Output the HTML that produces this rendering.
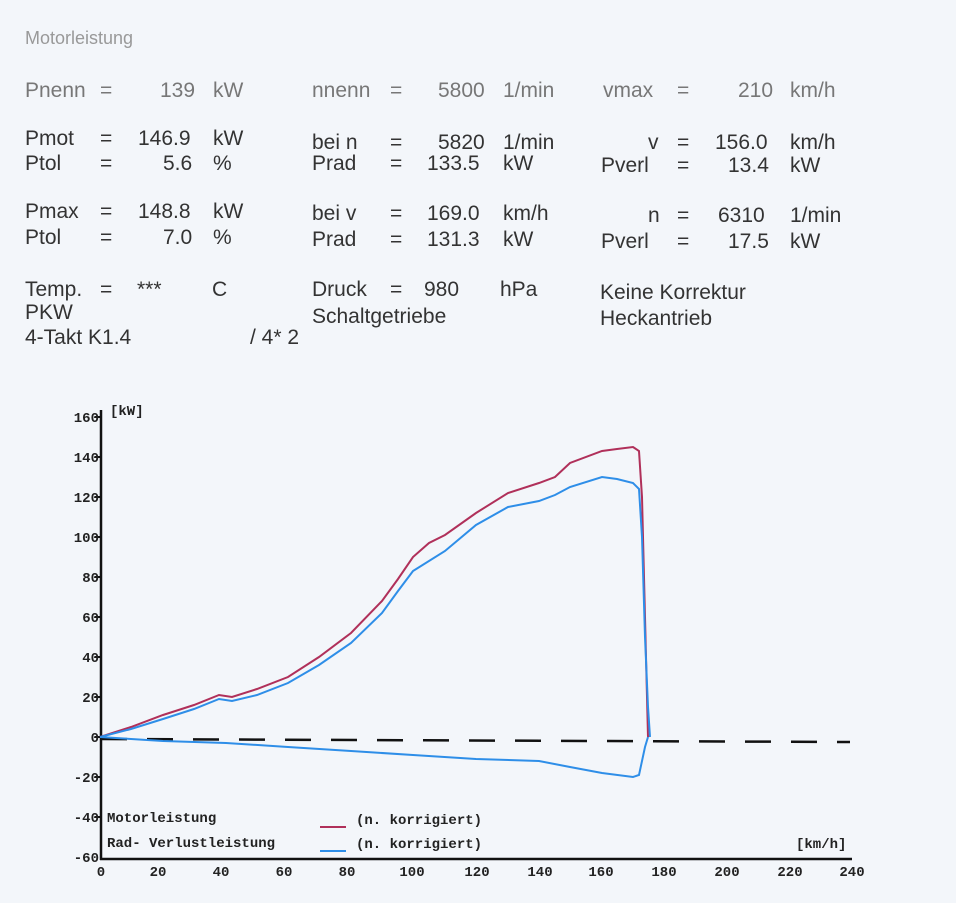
<!DOCTYPE html>
<html><head><meta charset="utf-8"><style>
body{margin:0;width:956px;height:903px;background:#f3f6fa;overflow:hidden}
svg{display:block}
.h{font-family:"Liberation Sans",sans-serif;font-size:21px;fill:#333}
.g{fill:#777}
.s{font-family:"Liberation Mono",monospace;font-size:14px;font-weight:bold;fill:#222}
</style></head><body>
<svg width="956" height="903" viewBox="0 0 956 903">
<rect width="956" height="903" fill="#f3f6fa"/>
<g class="h">
<text x="25" y="44" font-size="18" fill="#999">Motorleistung</text>
<text class="g" x="25" y="97">Pnenn</text><text class="g" x="100" y="97">=</text><text class="g" x="160" y="97">139</text><text class="g" x="213" y="97">kW</text>
<text class="g" x="312" y="97">nnenn</text><text class="g" x="390" y="97">=</text><text class="g" x="438" y="97">5800</text><text class="g" x="503" y="97">1/min</text>
<text class="g" x="603" y="97">vmax</text><text class="g" x="677" y="97">=</text><text class="g" x="738" y="97">210</text><text class="g" x="790" y="97">km/h</text>

<text x="25" y="145">Pmot</text><text x="100" y="145">=</text><text x="138" y="145">146.9</text><text x="213" y="145">kW</text>
<text x="25" y="170">Ptol</text><text x="100" y="170">=</text><text x="163" y="170">5.6</text><text x="213" y="170">%</text>
<text x="312" y="149">bei n</text><text x="390" y="149">=</text><text x="438" y="149">5820</text><text x="503" y="149">1/min</text>
<text x="312" y="170">Prad</text><text x="390" y="170">=</text><text x="427" y="170">133.5</text><text x="503" y="170">kW</text>
<text x="648" y="149">v</text><text x="677" y="149">=</text><text x="715" y="149">156.0</text><text x="790" y="149">km/h</text>
<text x="601" y="172">Pverl</text><text x="677" y="172">=</text><text x="728" y="172">13.4</text><text x="790" y="172">kW</text>

<text x="25" y="218">Pmax</text><text x="100" y="218">=</text><text x="138" y="218">148.8</text><text x="213" y="218">kW</text>
<text x="25" y="244">Ptol</text><text x="100" y="244">=</text><text x="163" y="244">7.0</text><text x="213" y="244">%</text>
<text x="312" y="220">bei v</text><text x="390" y="220">=</text><text x="427" y="220">169.0</text><text x="503" y="220">km/h</text>
<text x="312" y="246">Prad</text><text x="390" y="246">=</text><text x="427" y="246">131.3</text><text x="503" y="246">kW</text>
<text x="648" y="222">n</text><text x="677" y="222">=</text><text x="718" y="222">6310</text><text x="790" y="222">1/min</text>
<text x="601" y="248">Pverl</text><text x="677" y="248">=</text><text x="728" y="248">17.5</text><text x="790" y="248">kW</text>

<text x="25" y="296">Temp.</text><text x="100" y="296">=</text><text x="137" y="296">***</text><text x="212" y="296">C</text>
<text x="312" y="296">Druck</text><text x="390" y="296">=</text><text x="424" y="296">980</text><text x="500" y="296">hPa</text>
<text x="600" y="299">Keine Korrektur</text>
<text x="25" y="319">PKW</text>
<text x="312" y="323">Schaltgetriebe</text>
<text x="600" y="325">Heckantrieb</text>
<text x="25" y="344">4-Takt K1.4</text><text x="250" y="344">/ 4* 2</text>
</g>
<g stroke="#111" stroke-width="2.5" fill="none">
<line x1="101" y1="410" x2="101" y2="860"/>
<line x1="100" y1="859" x2="852" y2="859"/>
</g>
<g stroke="#111" stroke-width="2">
<line x1="95" y1="417" x2="101" y2="417"/><line x1="95" y1="457" x2="101" y2="457"/>
<line x1="95" y1="497" x2="101" y2="497"/><line x1="95" y1="537" x2="101" y2="537"/>
<line x1="95" y1="577" x2="101" y2="577"/><line x1="95" y1="617" x2="101" y2="617"/>
<line x1="95" y1="657" x2="101" y2="657"/><line x1="95" y1="697" x2="101" y2="697"/>
<line x1="95" y1="737" x2="101" y2="737"/><line x1="95" y1="777" x2="101" y2="777"/>
<line x1="95" y1="817" x2="101" y2="817"/>
</g>
<g class="s" text-anchor="end">
<text x="99" y="422">160</text><text x="99" y="462">140</text><text x="99" y="502">120</text>
<text x="99" y="542">100</text><text x="99" y="582">80</text><text x="99" y="622">60</text>
<text x="99" y="662">40</text><text x="99" y="702">20</text><text x="99" y="742">0</text>
<text x="99" y="782">-20</text><text x="99" y="822">-40</text><text x="99" y="862">-60</text>
</g>
<text class="s" x="110" y="415">[kW]</text>
<g class="s" text-anchor="middle">
<text x="101" y="876">0</text><text x="158" y="876">20</text><text x="221" y="876">40</text>
<text x="284" y="876">60</text><text x="347" y="876">80</text><text x="412" y="876">100</text>
<text x="477" y="876">120</text><text x="540" y="876">140</text><text x="601" y="876">160</text>
<text x="664" y="876">180</text><text x="727" y="876">200</text><text x="790" y="876">220</text>
<text x="852" y="876">240</text>
</g>
<text class="s" x="107" y="822">Motorleistung</text>
<text class="s" x="107" y="847">Rad- Verlustleistung</text>
<line x1="320" y1="827" x2="346" y2="827" stroke="#b0305a" stroke-width="2"/>
<line x1="320" y1="851" x2="346" y2="851" stroke="#2e8ee8" stroke-width="2"/>
<text class="s" x="356" y="824">(n. korrigiert)</text>
<text class="s" x="356" y="848">(n. korrigiert)</text>
<text class="s" x="796" y="848">[km/h]</text>
<line x1="101" y1="739" x2="850" y2="742" stroke="#111" stroke-width="2.5" stroke-dasharray="26,20"/>
<polyline fill="none" stroke="#b0305a" stroke-width="2" points="100,737 131,727 163,715 194,705 219,695 232,697 257,689 288,677 319,657 351,633 382,601 398,579 413,557 429,543 445,535 476,513 508,493 539,483 555,477 570,463 602,451 617,449 633,447 639,451 642,497 645,617 648,737"/>
<polyline fill="none" stroke="#2e8ee8" stroke-width="2" points="100,737 131,729 163,719 194,709 219,699 232,701 257,695 288,683 319,665 351,643 382,613 398,591 413,571 445,551 476,525 508,507 539,501 555,495 570,487 602,477 617,479 633,483 639,489 642,537 645,637 648,707 650,737"/>
<polyline fill="none" stroke="#2e8ee8" stroke-width="2" points="100,737 163,741 226,743 288,747 351,751 413,755 476,759 539,761 570,767 602,773 633,777 639,775 645,747 648,737"/>
</svg>
</body></html>
